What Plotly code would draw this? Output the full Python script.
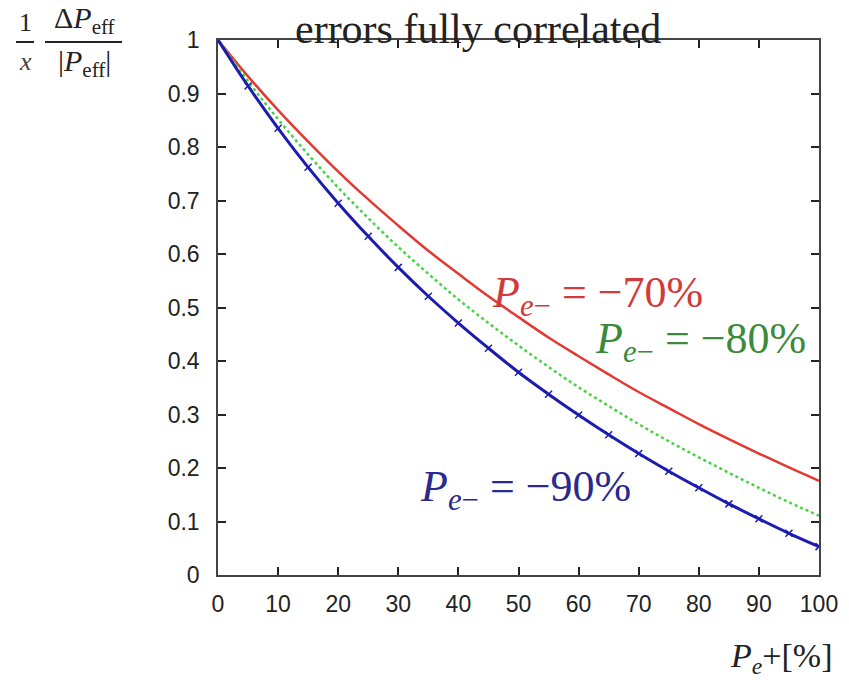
import plotly.graph_objects as go

# P_e+ in %
pe_plus = [0, 5, 10, 15, 20, 25, 30, 35, 40, 45, 50, 55, 60, 65, 70, 75, 80, 85, 90, 95, 100]
# (1/x) dP_eff/|P_eff|
ratio_70 = [1.0, 0.932, 0.869, 0.810, 0.754, 0.702, 0.653, 0.606, 0.563, 0.521, 0.482,
            0.444, 0.409, 0.375, 0.342, 0.312, 0.282, 0.254, 0.227, 0.201, 0.176]
ratio_80 = [1.0, 0.923, 0.852, 0.786, 0.724, 0.667, 0.613, 0.563, 0.515, 0.471, 0.429,
            0.389, 0.351, 0.316, 0.282, 0.250, 0.220, 0.191, 0.163, 0.136, 0.111]
ratio_90 = [1.0, 0.914, 0.835, 0.762, 0.695, 0.633, 0.575, 0.521, 0.471, 0.424, 0.379,
            0.338, 0.299, 0.262, 0.227, 0.194, 0.163, 0.133, 0.105, 0.078, 0.053]

x_ticks = [0, 10, 20, 30, 40, 50, 60, 70, 80, 90, 100]
y_ticks = [0, 0.1, 0.2, 0.3, 0.4, 0.5, 0.6, 0.7, 0.8, 0.9, 1]
y_tick_text = ["0", "0.1", "0.2", "0.3", "0.4", "0.5", "0.6", "0.7", "0.8", "0.9", "1"]

W, H = 849, 685
L, R, T, B = 218, 30, 40, 110
pw, ph = W - L - R, H - T - B

def px(x):
    return (x - L) / pw

def py(y):
    return (H - B - y) / ph

fig = go.Figure()
fig.add_trace(go.Scatter(x=pe_plus, y=ratio_70, mode="lines", line=dict(color="#e23a32", width=2.5, shape="spline"),
                         showlegend=False, hoverinfo="skip"))
fig.add_trace(go.Scatter(x=pe_plus, y=ratio_80, mode="lines", line=dict(color="#44d444", width=2.5, dash="dot", shape="spline"),
                         showlegend=False, hoverinfo="skip"))
fig.add_trace(go.Scatter(x=pe_plus, y=ratio_90, mode="lines+markers",
                         line=dict(color="#1c1cb0", width=3, shape="spline"),
                         marker=dict(symbol="x-thin", size=7, line=dict(color="#1c1cb0", width=1.5)),
                         showlegend=False, hoverinfo="skip"))

axis_common = dict(showline=True, linecolor="#444", linewidth=1.5, mirror="ticks", ticks="inside",
                   ticklen=8, tickwidth=1.5, tickcolor="#222", showgrid=False, zeroline=False,
                   tickfont=dict(family="Liberation Sans Narrow, Liberation Sans, Arial", size=23, color="#222"))

fig.update_xaxes(range=[0, 100], tickvals=x_ticks, ticklabelstandoff=8, **axis_common)
fig.update_yaxes(range=[0, 1], tickvals=y_ticks, ticktext=y_tick_text, ticklabelstandoff=12, **axis_common)

serif = "Liberation Serif, DejaVu Serif, serif"
ann = []
ann.append(dict(x=px(478), y=py(29), text="errors fully correlated", font=dict(family=serif, size=42, color="#222")))
# y-axis label (fraction)
ann.append(dict(x=px(25), y=py(22), text="1", font=dict(family=serif, size=26, color="#222")))
ann.append(dict(x=px(25), y=py(61), text="<i>x</i>", font=dict(family=serif, size=26, color="#444")))
ann.append(dict(x=px(84), y=py(20), text="Δ<i>P</i><sub>eff</sub>", font=dict(family=serif, size=30, color="#222")))
ann.append(dict(x=px(84), y=py(63), text="|<i>P</i><sub>eff</sub>|", font=dict(family=serif, size=30, color="#222")))
# curve labels
ann.append(dict(x=px(597), y=py(295), text="<i>P</i><sub><i>e</i>−</sub> = −70%", font=dict(family=serif, size=44, color="#d03a3a")))
ann.append(dict(x=px(700), y=py(341), text="<i>P</i><sub><i>e</i>−</sub> = −80%", font=dict(family=serif, size=44, color="#3a8a3a")))
ann.append(dict(x=px(525), y=py(489), text="<i>P</i><sub><i>e</i>−</sub> = −90%", font=dict(family=serif, size=44, color="#2a2a8c")))
# x-axis label
ann.append(dict(x=px(781), y=py(658), text="<i>P</i><sub><i>e</i></sub>+[%]", font=dict(family=serif, size=34, color="#222")))

for a in ann:
    a.update(xref="paper", yref="paper", showarrow=False, xanchor="center", yanchor="middle")

shapes = [
    dict(type="line", xref="paper", yref="paper", x0=px(16), x1=px(34), y0=py(42), y1=py(42), line=dict(color="#222", width=2)),
    dict(type="line", xref="paper", yref="paper", x0=px(45), x1=px(122), y0=py(42), y1=py(42), line=dict(color="#222", width=2)),
]

fig.update_layout(width=W, height=H, margin=dict(l=L, r=R, t=T, b=B), plot_bgcolor="white", paper_bgcolor="white",
                  annotations=ann, shapes=shapes)
fig.write_html("out.html")
